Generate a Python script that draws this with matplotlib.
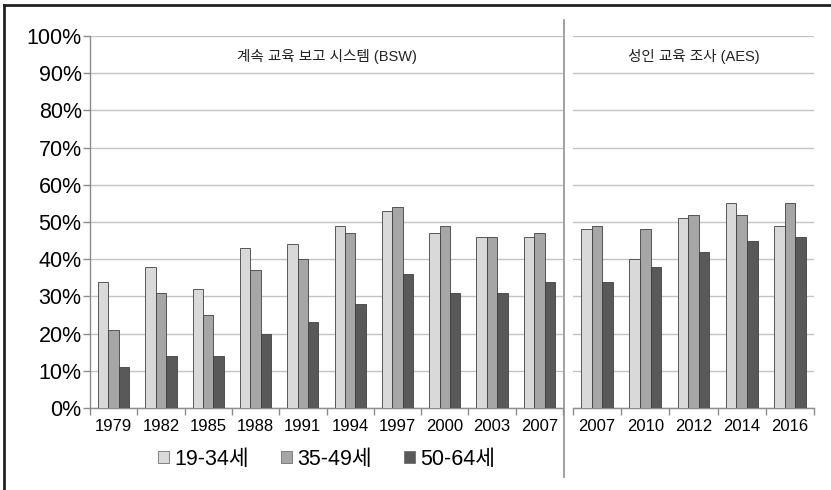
import matplotlib
matplotlib.use("Agg")
import matplotlib.pyplot as plt
import numpy as np
from matplotlib.lines import Line2D
from matplotlib.patches import Patch

plt.rcParams['font.family'] = ['Liberation Sans', 'Noto Sans CJK KR', 'DejaVu Sans']

# Data
bsw_years = ['1979', '1982', '1985', '1988', '1991', '1994', '1997', '2000', '2003', '2007']
bsw_19_34 = [34, 38, 32, 43, 44, 49, 53, 47, 46, 46]
bsw_35_49 = [21, 31, 25, 37, 40, 47, 54, 49, 46, 47]
bsw_50_64 = [11, 14, 14, 20, 23, 28, 36, 31, 31, 34]

aes_years = ['2007', '2010', '2012', '2014', '2016']
aes_19_34 = [48, 40, 51, 55, 49]
aes_35_49 = [49, 48, 52, 52, 55]
aes_50_64 = [34, 38, 42, 45, 46]

series_labels = ['19-34세', '35-49세', '50-64세']
colors = ['#d9d9d9', '#a6a6a6', '#595959']
edge = '#404040'
grid_c = '#c4c4c4'
axis_c = '#8c8c8c'

W, H = 831, 490
fig = plt.figure(figsize=(W / 100, H / 100), dpi=100)

def fx(px):
    return px / W

def fy(py):
    return 1 - py / H

ax1 = fig.add_axes([fx(90), fy(408), fx(563) - fx(90), fy(36) - fy(408)])
ax2 = fig.add_axes([fx(573), fy(408), fx(814) - fx(573), fy(36) - fy(408)])

bw = 0.22

def draw(ax, years, s1, s2, s3, title, show_y):
    x = np.arange(len(years))
    for i, (vals, c) in enumerate(zip([s1, s2, s3], colors)):
        ax.bar(x + (i - 1) * bw, vals, width=bw, color=c, edgecolor=edge,
               linewidth=0.6, zorder=3, label=series_labels[i])
    ax.set_xlim(-0.5, len(years) - 0.5)
    ax.set_ylim(0, 100)
    ax.set_yticks(np.arange(0, 101, 10))
    ax.yaxis.grid(True, color=grid_c, linewidth=1.0, zorder=0)
    ax.set_axisbelow(True)
    # x ticks at boundaries
    ax.set_xticks(np.arange(-0.5, len(years), 1.0))
    ax.set_xticklabels([])
    ax.set_xticks(x, minor=True)
    ax.set_xticklabels(years, minor=True, fontsize=12)
    ax.tick_params(axis='x', which='minor', length=0, pad=8)
    ax.tick_params(axis='x', which='major', length=5, color=axis_c, width=1)
    for s in ['top', 'right']:
        ax.spines[s].set_visible(False)
    ax.spines['bottom'].set_color(axis_c)
    ax.spines['bottom'].set_linewidth(1.0)
    if show_y:
        ax.spines['left'].set_color(axis_c)
        ax.spines['left'].set_linewidth(1.0)
        ax.set_yticklabels([f'{v}%' for v in range(0, 101, 10)], fontsize=15.5)
        ax.tick_params(axis='y', length=5, color=axis_c, width=1, pad=1)
    else:
        ax.spines['left'].set_visible(False)
        ax.tick_params(axis='y', length=0, labelleft=False)
    ax.text((len(years) - 1) / 2, 94.4, title, ha='center', va='center',
            fontsize=10.5, color='#222222')

draw(ax1, bsw_years, bsw_19_34, bsw_35_49, bsw_50_64, '계속 교육 보고 시스템 (BSW)', True)
draw(ax2, aes_years, aes_19_34, aes_35_49, aes_50_64, '성인 교육 조사 (AES)', False)

# divider line
fig.add_artist(Line2D([fx(564), fx(564)], [fy(20), fy(477)], color='#909090', linewidth=1.2))
# frame (top & left)
fig.add_artist(Line2D([fx(4), fx(4)], [fy(5), 0], color='#222222', linewidth=2))
fig.add_artist(Line2D([fx(4), 1], [fy(5), fy(5)], color='#222222', linewidth=2))

handles = [Patch(facecolor=c, edgecolor='#707070', linewidth=0.6) for c in colors]
leg = fig.legend(handles, series_labels, loc='center', bbox_to_anchor=(fx(327), fy(459)),
                 ncol=3, frameon=False, fontsize=15.5, handlelength=0.5, handleheight=0.5,
                 handletextpad=0.25, columnspacing=1.5, borderaxespad=0)

fig.savefig('out.png', dpi=100)
